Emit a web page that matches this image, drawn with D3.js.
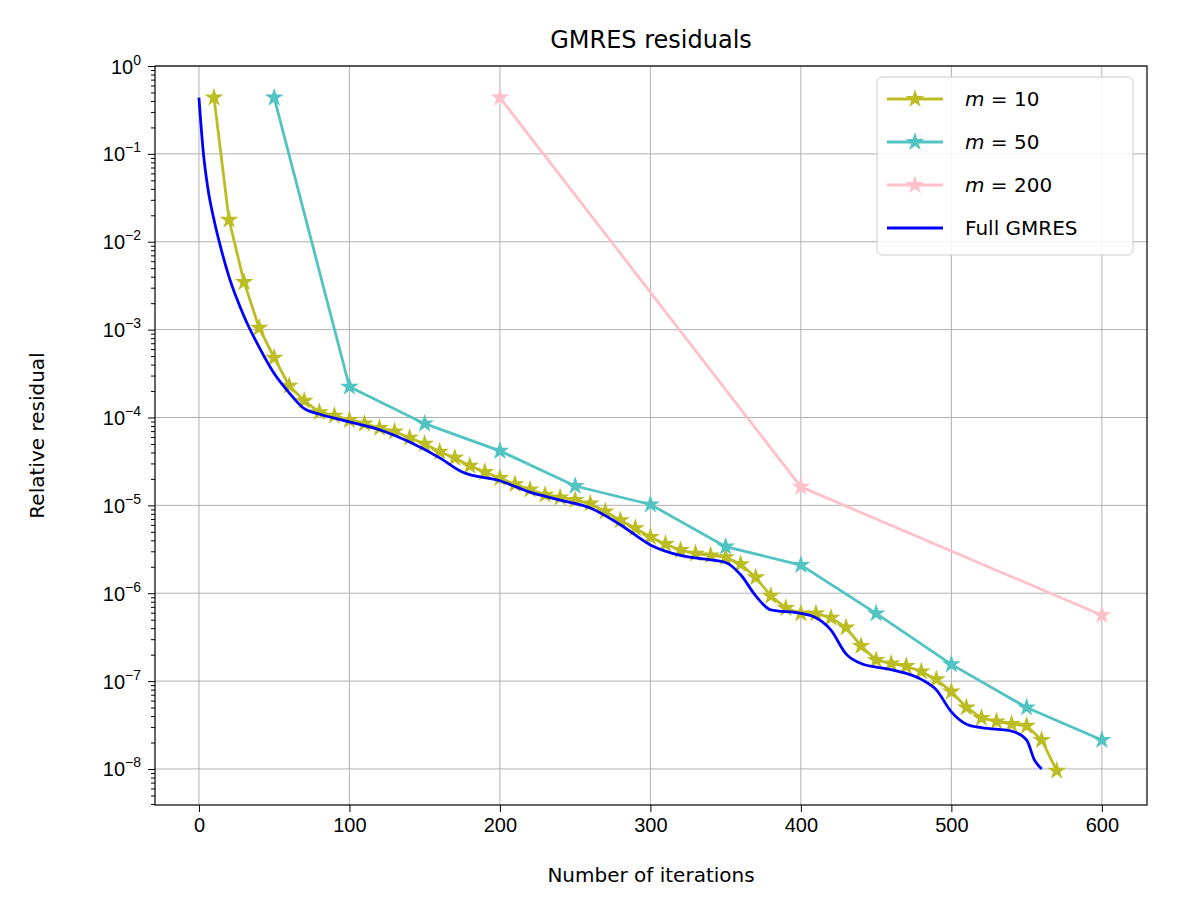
<!DOCTYPE html>
<html><head><meta charset="utf-8">
<script src="https://cdn.jsdelivr.net/npm/d3@7"></script>
<style>body{margin:0;background:#fff;font-family:"DejaVu Sans",sans-serif;}</style>
</head><body><svg id="chart" width="1184" height="916"></svg>
<script>
// log10 of relative residual
const m10X = d3.range(10, 571, 10);
const m10Y = [-0.36,-1.75,-2.46,-2.98,-3.32,-3.64,-3.81,-3.94,-3.98,-4.03,-4.07,-4.12,-4.16,-4.23,-4.30,-4.39,-4.46,-4.55,-4.62,-4.69,-4.76,-4.82,-4.88,-4.91,-4.94,-4.98,-5.07,-5.17,-5.26,-5.36,-5.44,-5.51,-5.55,-5.57,-5.59,-5.67,-5.82,-6.03,-6.17,-6.23,-6.23,-6.28,-6.39,-6.60,-6.76,-6.80,-6.83,-6.89,-6.98,-7.12,-7.30,-7.42,-7.46,-7.49,-7.51,-7.67,-8.02];
const m50X = [50,100,150,200,250,300,350,400,450,500,550,600];
const m50Y = [-0.36,-3.65,-4.07,-4.38,-4.78,-4.99,-5.47,-5.68,-6.23,-6.81,-7.30,-7.67];
const m200X = [200,400,600];
const m200Y = [-0.36,-4.79,-6.25];
const fullX = [0,3,6,10,15,20,30,40,50,60,70,80,100,120,140,160,175,200,220,240,260,280,300,320,340,350,360,370,380,400,410,420,430,440,460,480,490,500,510,520,540,550,555,560];
const fullY = [-0.36,-1.0,-1.4,-1.75,-2.1,-2.4,-2.85,-3.2,-3.5,-3.72,-3.9,-3.96,-4.05,-4.14,-4.28,-4.46,-4.62,-4.72,-4.85,-4.94,-5.03,-5.22,-5.45,-5.57,-5.62,-5.65,-5.79,-6.03,-6.19,-6.23,-6.28,-6.42,-6.69,-6.80,-6.87,-6.98,-7.10,-7.35,-7.49,-7.53,-7.57,-7.67,-7.89,-8.0];
const xTicks = [0,100,200,300,400,500,600];
const yExps = [0,-1,-2,-3,-4,-5,-6,-7,-8];

const L = 155, R = 1147, T = 66, B = 805;
const svg = d3.select('#chart');
const x = d3.scaleLinear().domain([-29.2, 630]).range([L, R]);
const y = d3.scaleLog().domain([Math.pow(10, -8.41), 1]).range([B, T]);

// grid
svg.append('g').selectAll('line').data(xTicks).join('line')
  .attr('x1', d => x(d)).attr('x2', d => x(d)).attr('y1', T).attr('y2', B)
  .attr('stroke', '#b0b0b0').attr('stroke-width', 1);
svg.append('g').selectAll('line').data(yExps).join('line')
  .attr('x1', L).attr('x2', R).attr('y1', d => y(Math.pow(10, d))).attr('y2', d => y(Math.pow(10, d)))
  .attr('stroke', '#b0b0b0').attr('stroke-width', 1);

// axes
const gx = svg.append('g').attr('transform', `translate(0,${B})`)
  .call(d3.axisBottom(x).tickValues(xTicks).tickSize(7).tickPadding(6).tickFormat(d3.format('d')));
const minor = [];
for (let e = -9; e < 0; e++) for (let k = 2; k < 10; k++) {
  const v = k * Math.pow(10, e);
  if (v >= y.domain()[0] && v <= 1) minor.push(v);
}
svg.append('g').attr('transform', `translate(${L},0)`)
  .call(d3.axisLeft(y).tickValues(minor).tickSize(4).tickFormat(''));
const gy = svg.append('g').attr('transform', `translate(${L},0)`)
  .call(d3.axisLeft(y).tickValues(yExps.map(e => Math.pow(10, e))).tickSize(7).tickPadding(6).tickFormat(''));
gy.selectAll('.tick').append('text')
  .attr('x', -14).attr('dy', '0.35em').attr('text-anchor', 'end').attr('fill', '#000')
  .style('font-size', '20px')
  .html((d, i) => `10<tspan dy="-9" font-size="14">${yExps[i] === 0 ? '0' : '\u2212' + (-yExps[i])}</tspan>`);
svg.selectAll('.domain').remove();
svg.selectAll('.tick line').attr('stroke', '#000');
gx.selectAll('text').style('font-size', '20px').attr('fill', '#000');
svg.append('rect').attr('x', L).attr('y', T).attr('width', R - L).attr('height', B - T)
  .attr('fill', 'none').attr('stroke', '#000').attr('stroke-width', 1.2);

// series
const line = d3.line().x(d => x(d[0])).y(d => y(Math.pow(10, d[1])));
const series = [
  {label: '10', xs: m10X, ys: m10Y, color: '#bcbd22'},
  {label: '50', xs: m50X, ys: m50Y, color: '#52c3c3'},
  {label: '200', xs: m200X, ys: m200Y, color: '#ffc0cb'}
];
const star = d3.symbol().type(d3.symbolStar).size(110);
series.forEach(s => {
  const pts = s.xs.map((v, i) => [v, s.ys[i]]);
  svg.append('path').datum(pts).attr('d', line).attr('fill', 'none')
    .attr('stroke', s.color).attr('stroke-width', 2.8);
  svg.append('g').selectAll('path').data(pts).join('path')
    .attr('d', star).attr('transform', d => `translate(${x(d[0])},${y(Math.pow(10, d[1]))})`)
    .attr('fill', s.color);
});
const fullPts = fullX.map((v, i) => [v, fullY[i]]);
svg.append('path').datum(fullPts).attr('d', line.curve(d3.curveMonotoneX))
  .attr('fill', 'none').attr('stroke', 'blue').attr('stroke-width', 2.8);

// labels
svg.append('text').attr('x', (L + R) / 2).attr('y', 48).attr('text-anchor', 'middle')
  .style('font-size', '24px').text('GMRES residuals');
svg.append('text').attr('x', (L + R) / 2).attr('y', 882).attr('text-anchor', 'middle')
  .style('font-size', '20px').text('Number of iterations');
svg.append('text').attr('transform', `translate(44,${(T + B) / 2}) rotate(-90)`).attr('text-anchor', 'middle')
  .style('font-size', '20px').text('Relative residual');

// legend
const lg = svg.append('g').attr('transform', 'translate(877,77)');
lg.append('rect').attr('width', 256).attr('height', 178).attr('rx', 5)
  .attr('fill', '#fff').attr('fill-opacity', 0.85).attr('stroke', '#ccc');
const items = series.map(s => ({label: s.label, color: s.color, mark: true}))
  .concat([{label: null, color: 'blue', mark: false}]);
items.forEach((it, i) => {
  const yy = 22 + i * 43;
  lg.append('line').attr('x1', 10).attr('x2', 66).attr('y1', yy).attr('y2', yy)
    .attr('stroke', it.color).attr('stroke-width', 2.8);
  if (it.mark) lg.append('path').attr('d', star).attr('transform', `translate(38,${yy})`).attr('fill', it.color);
  const t = lg.append('text').attr('x', 88).attr('y', yy + 7).style('font-size', '20px');
  if (it.label) {
    t.append('tspan').style('font-style', 'italic').text('m');
    t.append('tspan').text(' = ' + it.label);
  } else t.text('Full GMRES');
});
</script></body></html>
